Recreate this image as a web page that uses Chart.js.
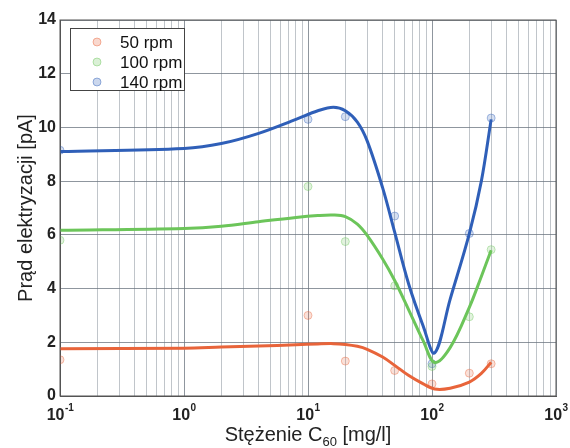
<!DOCTYPE html>
<html lang="pl">
<head>
<meta charset="utf-8">
<title>Prąd elektryzacji</title>
<script src="https://cdn.jsdelivr.net/npm/chart.js@4/dist/chart.umd.min.js"></script>
<style>
  html, body { margin: 0; padding: 0; background: #fff; }
  #wykres { display: block; }
</style>
</head>
<body>
<canvas id="wykres" width="570" height="448"></canvas>
<script>
// ------------------------------------------------------------
// Dane — punkty pomiarowe i krzywe dopasowania
// ------------------------------------------------------------

// Stężenia, przy których wykonano pomiary [mg/l]
const stezeniaPomiar = [0.1, 10, 20, 50, 100, 200, 300];
const pomiar50  = [1.35, 3.0, 1.3, 0.95, 0.45, 0.85, 1.2];
const pomiar100 = [5.8, 7.8, 5.75, 4.1, 1.1, 2.95, 5.45];
const pomiar140 = [9.15, 10.3, 10.4, 6.7, 1.2, 6.05, 10.35];

// Krzywe dopasowania — wartości odczytane w kilku punktach osi
const stezeniaKrzywa = [0.1, 1, 2, 4, 8, 12, 16, 20, 25, 30, 40, 50, 65, 85, 105, 140, 200, 250, 300];
const krzywa50  = [1.76, 1.78, 1.82, 1.86, 1.91, 1.94, 1.95, 1.92, 1.85, 1.74, 1.45, 1.14, 0.76, 0.45, 0.26, 0.29, 0.52, 0.84, 1.26];
const krzywa100 = [6.17, 6.24, 6.32, 6.49, 6.65, 6.72, 6.74, 6.68, 6.4, 5.98, 5.1, 4.3, 3.2, 2.05, 1.25, 1.8, 3.3, 4.45, 5.43];
const krzywa140 = [9.1, 9.22, 9.4, 9.78, 10.3, 10.62, 10.75, 10.62, 10.2, 9.5, 7.75, 6.1, 4.15, 2.6, 1.6, 3.6, 6.05, 8.0, 10.3];

const nazwySerii = ['50 rpm', '100 rpm', '140 rpm'];

// Opisy osi X: 10 do potęgi
const dekadyX = [0.1, 1, 10, 100, 1000];
const potegiX = ['-1', '0', '1', '2', '3'];

// Linie siatki X (skala logarytmiczna, 1..9 w każdej dekadzie)
const siatkaX = [
  0.1, 0.2, 0.3, 0.4, 0.5, 0.6, 0.7, 0.8, 0.9,
  1, 2, 3, 4, 5, 6, 7, 8, 9,
  10, 20, 30, 40, 50, 60, 70, 80, 90,
  100, 200, 300, 400, 500, 600, 700, 800, 900,
  1000
];


// ------------------------------------------------------------
// Wygląd
// ------------------------------------------------------------
const CZCIONKA = "'Liberation Sans', Arial, Helvetica, sans-serif";
const kolory = {
  czerwony: '#e8643a',
  zielony:  '#6cc55a',
  niebieski:'#2f5fb8'
};
const kolorySerii = [kolory.czerwony, kolory.zielony, kolory.niebieski];

// zamienia '#rrggbb' na rgba z przezroczystością (do bladych znaczników)
function przezroczysty(hex, alfa) {
  const r = parseInt(hex.slice(1, 3), 16);
  const g = parseInt(hex.slice(3, 5), 16);
  const b = parseInt(hex.slice(5, 7), 16);
  return `rgba(${r},${g},${b},${alfa})`;
}

// pary {x, y} dla Chart.js
const pary = (xs, ys) => xs.map((x, i) => ({ x, y: ys[i] }));

function czyDekada(v) {
  const l = Math.log10(v);
  return Math.abs(l - Math.round(l)) < 1e-9;
}


// ------------------------------------------------------------
// Plugin — ramka, opisy osi i legenda w środku wykresu
// ------------------------------------------------------------
const opisyWykresu = {
  id: 'opisyWykresu',
  afterDraw(chart) {
    const { ctx, chartArea: a, scales: { x } } = chart;
    ctx.save();

    // ramka dookoła obszaru (jak w MATLAB-ie)
    ctx.strokeStyle = '#555';
    ctx.lineWidth = 1;
    ctx.strokeRect(a.left, a.top, a.right - a.left, a.bottom - a.top);

    // opisy X: "10" + wykładnik
    ctx.fillStyle = '#222';
    ctx.textAlign = 'left';
    ctx.textBaseline = 'alphabetic';
    dekadyX.forEach((v, i) => {
      const px = x.getPixelForValue(v);
      ctx.font = `bold 16px ${CZCIONKA}`;
      const wPodst = ctx.measureText('10').width;
      ctx.font = `bold 10px ${CZCIONKA}`;
      const wWyk = ctx.measureText(potegiX[i]).width;
      const start = px - (wPodst + wWyk) / 2;
      ctx.font = `bold 16px ${CZCIONKA}`;
      ctx.fillText('10', start, 420);
      ctx.font = `bold 10px ${CZCIONKA}`;
      ctx.fillText(potegiX[i], start + wPodst + 0.5, 411);
    });

    // tytuł osi X z indeksem dolnym C60
    const czesci = [
      { t: 'Stężenie C', f: `20px ${CZCIONKA}`, dy: 0 },
      { t: '60',         f: `13px ${CZCIONKA}`, dy: 5 },
      { t: ' [mg/l]',    f: `20px ${CZCIONKA}`, dy: 0 }
    ];
    let szer = 0;
    czesci.forEach(c => { ctx.font = c.f; c.w = ctx.measureText(c.t).width; szer += c.w; });
    let kx = (a.left + a.right) / 2 - szer / 2;
    czesci.forEach(c => {
      ctx.font = c.f;
      ctx.fillText(c.t, kx, 441 + c.dy);
      kx += c.w;
    });

    // tytuł osi Y (obrócony)
    ctx.save();
    ctx.translate(26, (a.top + a.bottom) / 2);
    ctx.rotate(-Math.PI / 2);
    ctx.textAlign = 'center';
    ctx.textBaseline = 'middle';
    ctx.font = `20px ${CZCIONKA}`;
    ctx.fillText('Prąd elektryzacji [pA]', 0, 0);
    ctx.restore();

    // legenda w lewym górnym rogu
    const lx = 70, ly = 28, lw = 114, lh = 62;
    ctx.fillStyle = '#fff';
    ctx.fillRect(lx, ly, lw, lh);
    ctx.strokeStyle = '#444';
    ctx.strokeRect(lx + 0.5, ly + 0.5, lw, lh);
    ctx.font = `17px ${CZCIONKA}`;
    ctx.textBaseline = 'middle';
    ctx.textAlign = 'left';
    nazwySerii.forEach((nazwa, i) => {
      const wy = ly + 14 + i * 20;
      ctx.beginPath();
      ctx.arc(97, wy, 4, 0, Math.PI * 2);
      ctx.fillStyle = przezroczysty(kolorySerii[i], 0.25);
      ctx.fill();
      ctx.strokeStyle = przezroczysty(kolorySerii[i], 0.45);
      ctx.stroke();
      ctx.fillStyle = '#111';
      ctx.fillText(nazwa, 120, wy + 1);
    });

    ctx.restore();
  }
};


// ------------------------------------------------------------
// Wykres
// ------------------------------------------------------------
document.addEventListener('DOMContentLoaded', () => {
  const krzywe = [krzywa50, krzywa100, krzywa140];
  const pomiary = [pomiar50, pomiar100, pomiar140];

  // krzywe dopasowania — rysowane na wierzchu
  const zbioryKrzywych = krzywe.map((ys, i) => ({
    label: nazwySerii[i] + ' (dopasowanie)',
    data: pary(stezeniaKrzywa, ys),
    borderColor: kolorySerii[i],
    borderWidth: 3,
    pointRadius: 0,
    fill: false,
    tension: 0.35,
    order: 1
  }));

  // punkty pomiarowe — blade kółka
  const zbioryPunktow = pomiary.map((ys, i) => ({
    label: nazwySerii[i],
    data: pary(stezeniaPomiar, ys),
    showLine: false,
    pointRadius: 4,
    pointBackgroundColor: przezroczysty(kolorySerii[i], 0.2),
    pointBorderColor: przezroczysty(kolorySerii[i], 0.4),
    pointBorderWidth: 1,
    order: 2
  }));

  new Chart(document.getElementById('wykres'), {
    type: 'line',
    data: { datasets: [...zbioryKrzywych, ...zbioryPunktow] },
    options: {
      responsive: false,
      animation: false,
      layout: { padding: { top: 20, right: 14, left: 0, bottom: 0 } },
      plugins: {
        legend: { display: false },   // legenda rysowana w pluginie
        tooltip: { enabled: false }
      },
      scales: {
        x: {
          type: 'logarithmic',
          min: 0.1,
          max: 1000,
          afterBuildTicks: s => { s.ticks = siatkaX.map(v => ({ value: v })); },
          afterFit: s => { s.height = 52; },
          ticks: { display: false },
          grid: {
            drawTicks: false,
            color: c => czyDekada(c.tick.value) ? 'rgba(105,115,125,0.75)' : 'rgba(130,140,150,0.5)',
            lineWidth: 1
          },
          border: { color: '#555', width: 1 }
        },
        y: {
          min: 0,
          max: 14,
          afterFit: s => { s.width = 60; },
          ticks: {
            stepSize: 2,
            padding: 4,
            color: '#222',
            font: { family: CZCIONKA, size: 16, weight: 'bold' }
          },
          grid: {
            drawTicks: false,
            color: 'rgba(105,115,125,0.75)',
            lineWidth: 1
          },
          border: { color: '#555', width: 1 }
        }
      }
    },
    plugins: [opisyWykresu]
  });
});
</script>
</body>
</html>
